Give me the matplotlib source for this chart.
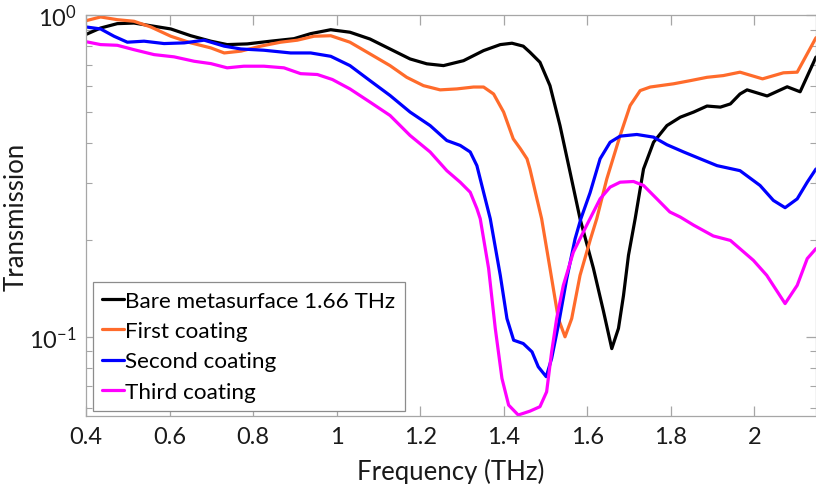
import matplotlib
matplotlib.use("Agg")
import matplotlib.pyplot as plt
from matplotlib.ticker import FixedLocator, FuncFormatter, NullFormatter, LogLocator

plt.rcParams['font.family'] = ['Lato', 'DejaVu Sans']
plt.rcParams['mathtext.fontset'] = 'custom'
plt.rcParams['mathtext.rm'] = 'Lato'
plt.rcParams['mathtext.it'] = 'Lato:italic'
plt.rcParams['mathtext.bf'] = 'Lato:bold'

# Transmission spectra (frequency in THz)
bare_f = [0.400, 0.435, 0.475, 0.515, 0.555, 0.603, 0.651, 0.699, 0.738, 0.786,
          0.842, 0.898, 0.938, 0.986, 1.032, 1.080, 1.128, 1.176, 1.216, 1.256,
          1.304, 1.352, 1.392, 1.420, 1.447, 1.463, 1.487, 1.511, 1.535, 1.559,
          1.583, 1.615, 1.639, 1.659, 1.675, 1.687, 1.699, 1.715, 1.735, 1.759,
          1.791, 1.823, 1.855, 1.887, 1.919, 1.943, 1.966, 1.983, 2.031, 2.079,
          2.110, 2.148]
bare_t = [0.870, 0.911, 0.940, 0.944, 0.926, 0.905, 0.862, 0.829, 0.809, 0.813,
          0.829, 0.844, 0.875, 0.900, 0.884, 0.842, 0.784, 0.730, 0.705, 0.696,
          0.721, 0.775, 0.809, 0.817, 0.800, 0.766, 0.713, 0.603, 0.453, 0.325,
          0.2325, 0.163, 0.120, 0.0917, 0.106, 0.134, 0.179, 0.2325, 0.332, 0.402,
          0.453, 0.481, 0.499, 0.521, 0.517, 0.529, 0.568, 0.585, 0.560, 0.598,
          0.577, 0.740]

first_f = [0.400, 0.435, 0.475, 0.515, 0.555, 0.603, 0.651, 0.699, 0.731, 0.771,
           0.818, 0.866, 0.906, 0.946, 0.986, 1.032, 1.080, 1.128, 1.168, 1.208,
           1.248, 1.288, 1.328, 1.352, 1.376, 1.400, 1.423, 1.440, 1.456, 1.463,
           1.491, 1.511, 1.531, 1.547, 1.563, 1.583, 1.608, 1.623, 1.647, 1.679,
           1.703, 1.727, 1.751, 1.807, 1.847, 1.887, 1.926, 1.966, 2.020, 2.070,
           2.103, 2.148]
first_t = [0.960, 0.986, 0.967, 0.956, 0.918, 0.859, 0.819, 0.790, 0.762, 0.772,
           0.800, 0.823, 0.835, 0.859, 0.862, 0.823, 0.757, 0.696, 0.640, 0.603,
           0.585, 0.589, 0.597, 0.597, 0.568, 0.499, 0.412, 0.384, 0.357, 0.332,
           0.2325, 0.163, 0.1137, 0.0998, 0.1137, 0.155, 0.201, 0.2325, 0.309, 0.422,
           0.523, 0.582, 0.597, 0.611, 0.625, 0.640, 0.648, 0.664, 0.633, 0.661,
           0.664, 0.850]

second_f = [0.400, 0.435, 0.467, 0.499, 0.539, 0.587, 0.635, 0.683, 0.731, 0.771,
            0.826, 0.890, 0.938, 0.986, 1.032, 1.080, 1.128, 1.176, 1.224, 1.264,
            1.296, 1.320, 1.336, 1.352, 1.368, 1.392, 1.408, 1.424, 1.447, 1.468,
            1.483, 1.502, 1.515, 1.531, 1.551, 1.571, 1.585, 1.607, 1.631, 1.655,
            1.679, 1.719, 1.759, 1.791, 1.831, 1.871, 1.911, 1.966, 2.014, 2.046,
            2.074, 2.103, 2.127, 2.148]
second_t = [0.918, 0.905, 0.859, 0.823, 0.829, 0.815, 0.819, 0.835, 0.800, 0.784,
            0.777, 0.762, 0.762, 0.744, 0.696, 0.625, 0.562, 0.499, 0.453, 0.407,
            0.393, 0.375, 0.340, 0.281, 0.2325, 0.155, 0.1137, 0.0974, 0.0951, 0.0896,
            0.0805, 0.0750, 0.0855, 0.1084, 0.151, 0.201, 0.2325, 0.280, 0.357, 0.402,
            0.420, 0.425, 0.417, 0.395, 0.375, 0.357, 0.340, 0.328, 0.295, 0.265,
            0.2516, 0.268, 0.302, 0.332]

third_f = [0.400, 0.435, 0.475, 0.515, 0.563, 0.611, 0.659, 0.699, 0.738, 0.778,
           0.826, 0.874, 0.914, 0.954, 0.990, 1.032, 1.080, 1.128, 1.176, 1.224,
           1.264, 1.296, 1.320, 1.336, 1.344, 1.364, 1.380, 1.396, 1.412, 1.435,
           1.463, 1.487, 1.503, 1.515, 1.527, 1.543, 1.567, 1.599, 1.631, 1.655,
           1.679, 1.711, 1.735, 1.767, 1.798, 1.823, 1.855, 1.902, 1.943, 1.998,
           2.030, 2.074, 2.103, 2.127, 2.148]
third_t = [0.826, 0.809, 0.805, 0.780, 0.753, 0.741, 0.718, 0.706, 0.685, 0.693,
           0.693, 0.685, 0.657, 0.653, 0.630, 0.589, 0.536, 0.487, 0.422, 0.375,
           0.328, 0.302, 0.281, 0.250, 0.2325, 0.163, 0.106, 0.0741, 0.0612, 0.0570,
           0.0586, 0.0605, 0.0673, 0.0896, 0.1137, 0.1443, 0.183, 0.222, 0.268, 0.2915,
           0.302, 0.3035, 0.295, 0.268, 0.244, 0.2353, 0.222, 0.2055, 0.199, 0.1726,
           0.155, 0.1266, 0.1443, 0.1747, 0.1877]

labels = ["Bare metasurface 1.66 THz", "First coating", "Second coating", "Third coating"]
colors = ["#000000", "#FF6B2B", "#0000FF", "#FF00FF"]
x_ticks = [0.4, 0.6, 0.8, 1.0, 1.2, 1.4, 1.6, 1.8, 2.0]

fig = plt.figure(figsize=(8.16, 4.85), dpi=100)
ax = fig.add_axes([86 / 816, 1 - 417 / 485, 730 / 816, 401 / 485])

for f, t, lab, c in zip([bare_f, first_f, second_f, third_f],
                        [bare_t, first_t, second_t, third_t], labels, colors):
    ax.plot(f, t, color=c, lw=2.3, label=lab,
            solid_joinstyle='round', solid_capstyle='round')

ax.set_yscale('log')
ax.set_xlim(0.4, 2.148)
ax.set_ylim(0.0566, 1.0)

ax.xaxis.set_major_locator(FixedLocator(x_ticks))
ax.xaxis.set_major_formatter(FuncFormatter(lambda v, p: f"{v:g}"))
ax.yaxis.set_major_locator(FixedLocator([0.1, 1.0]))
ax.yaxis.set_major_formatter(FuncFormatter(
    lambda v, p: r"$\mathregular{10^{0}}$" if v >= 0.99 else r"$\mathregular{10^{-1}}$"))
ax.yaxis.set_minor_locator(LogLocator(base=10, subs=range(2, 10), numticks=20))
ax.yaxis.set_minor_formatter(NullFormatter())

axis_grey = "#a6a6a6"
text_col = "#1a1a1a"
for s in ax.spines.values():
    s.set_color(axis_grey)
    s.set_linewidth(0.9)
ax.tick_params(which='both', direction='in', top=True, right=True,
               color=axis_grey, labelcolor=text_col, labelsize=17)
ax.tick_params(which='major', length=7, width=0.9, pad=7)
ax.tick_params(which='minor', length=4, width=0.8)

ax.set_xlabel("Frequency (THz)", fontsize=18.5, color=text_col, labelpad=8)
ax.set_ylabel("Transmission", fontsize=18.5, color=text_col, va='center')
ax.yaxis.set_label_coords((16 - 86) / 730, 0.5)

leg = ax.legend(loc='lower left', bbox_to_anchor=(0.0096, 0.0125), borderaxespad=0,
                fontsize=16.2, handlelength=0.95, handletextpad=0.05, labelspacing=0.45,
                borderpad=0.42, fancybox=False, framealpha=1, edgecolor='#8c8c8c')
leg.get_frame().set_linewidth(0.9)
for line in leg.get_lines():
    line.set_linewidth(2.3)

fig.savefig("out.png", dpi=100)
